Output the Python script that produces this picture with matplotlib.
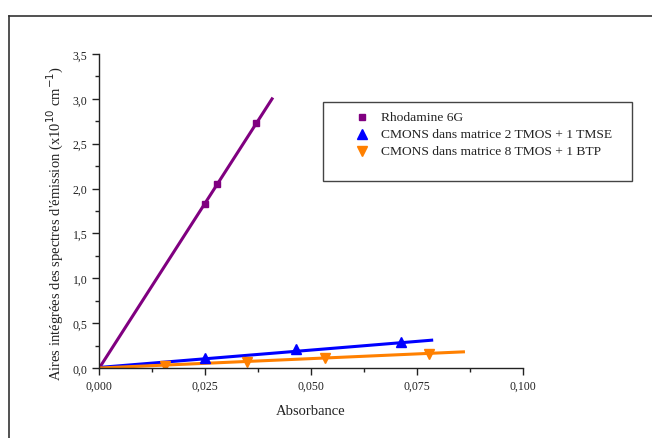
import matplotlib
matplotlib.use("Agg")
import matplotlib.pyplot as plt
from matplotlib.ticker import MultipleLocator, FuncFormatter
from matplotlib.lines import Line2D
from matplotlib.patches import Rectangle

plt.rcParams['font.family'] = ['Liberation Serif', 'DejaVu Serif']

# Data
rh_x = [0.0249, 0.0279, 0.0369]
rh_y = [1.83, 2.05, 2.73]
rh_fit_x = [0.0, 0.0408]
rh_fit_y = [0.0, 3.0]

bl_x = [0.0250, 0.0465, 0.0712]
bl_y = [0.11, 0.21, 0.29]
bl_fit_x = [0.001, 0.0785]
bl_fit_y = [0.01, 0.31]

or_x = [0.0155, 0.0348, 0.0533, 0.0779]
or_y = [0.02, 0.07, 0.11, 0.16]
or_fit_x = [0.0, 0.086]
or_fit_y = [0.0, 0.18]

labels = ["Rhodamine 6G", "CMONS dans matrice 2 TMOS + 1 TMSE",
          "CMONS dans matrice 8 TMOS + 1 BTP"]
colors = ["#800080", "#0000FF", "#FF8000"]
markers = ['s', '^', 'v']
msizes = [5, 6.5, 6.5]

W, H = 652, 439
fig = plt.figure(figsize=(W / 100, H / 100), dpi=100)
ax = fig.add_axes([99.3 / W, 1 - 369 / H, 423.4 / W, 314 / H])

ax.plot(rh_fit_x, rh_fit_y, color=colors[0], lw=2.2)
ax.plot(bl_fit_x, bl_fit_y, color=colors[1], lw=2.2)
ax.plot(or_fit_x, or_fit_y, color=colors[2], lw=2.2)
ax.plot(rh_x, rh_y, markers[0], color=colors[0], ms=msizes[0], ls='none')
ax.plot(bl_x, bl_y, markers[1], color=colors[1], ms=msizes[1], ls='none')
ax.plot(or_x, or_y, markers[2], color=colors[2], ms=msizes[2], ls='none')

ax.set_xlim(0, 0.1)
ax.set_ylim(0, 3.5)
ax.xaxis.set_major_locator(MultipleLocator(0.025))
ax.xaxis.set_minor_locator(MultipleLocator(0.0125))
ax.yaxis.set_major_locator(MultipleLocator(0.5))
ax.yaxis.set_minor_locator(MultipleLocator(0.25))
ax.xaxis.set_major_formatter(FuncFormatter(lambda v, p: f"{v:.3f}".replace('.', ',')))
ax.yaxis.set_major_formatter(FuncFormatter(lambda v, p: f"{v:.1f}".replace('.', ',')))
for s in ['top', 'right']:
    ax.spines[s].set_visible(False)
for s in ['left', 'bottom']:
    ax.spines[s].set_linewidth(1.0)
    ax.spines[s].set_color('#222222')
ax.tick_params(which='major', direction='out', length=5, width=1, labelsize=8.5,
               color='#222222', labelcolor='#222222')
ax.tick_params(which='minor', direction='out', length=3, width=1, color='#222222')

ax.set_xlabel("Absorbance", fontsize=10.5, color='#222222')
ax.xaxis.set_label_coords(0.5, -(405 - 369) / 314, transform=ax.transAxes)
ax.set_ylabel("Aires intégrées des spectres d'émission (x10$^{10}$ cm$^{-1}$)",
              fontsize=10.5, color='#222222')
ax.yaxis.set_label_coords((66 - 99.3) / 423.4, (369 - 223) / 314, transform=ax.transAxes)

# legend box drawn by hand to match the reference's size
fig.add_artist(Rectangle((323 / W, 1 - 182 / H), (632 - 323) / W, (182 - 103) / H,
                         transform=fig.transFigure, facecolor='white',
                         edgecolor='#444444', lw=1.0))
rows_y = [118, 135, 152]
for lab, c, m, ms, yy in zip(labels, colors, markers, msizes, rows_y):
    fig.add_artist(Line2D([362 / W], [1 - yy / H], marker=m, color=c, ms=ms, ls='none',
                          transform=fig.transFigure))
    fig.text(381 / W, 1 - yy / H, lab, fontsize=9.7, va='center', ha='left', color='#222222')

# outer frame
fig.add_artist(Line2D([9 / W, 1.0], [1 - 17 / H] * 2, transform=fig.transFigure, color='#333333', lw=1.2))
fig.add_artist(Line2D([9 / W] * 2, [0.0, 1 - 17 / H], transform=fig.transFigure, color='#333333', lw=1.2))

fig.savefig("out.png", dpi=100)
